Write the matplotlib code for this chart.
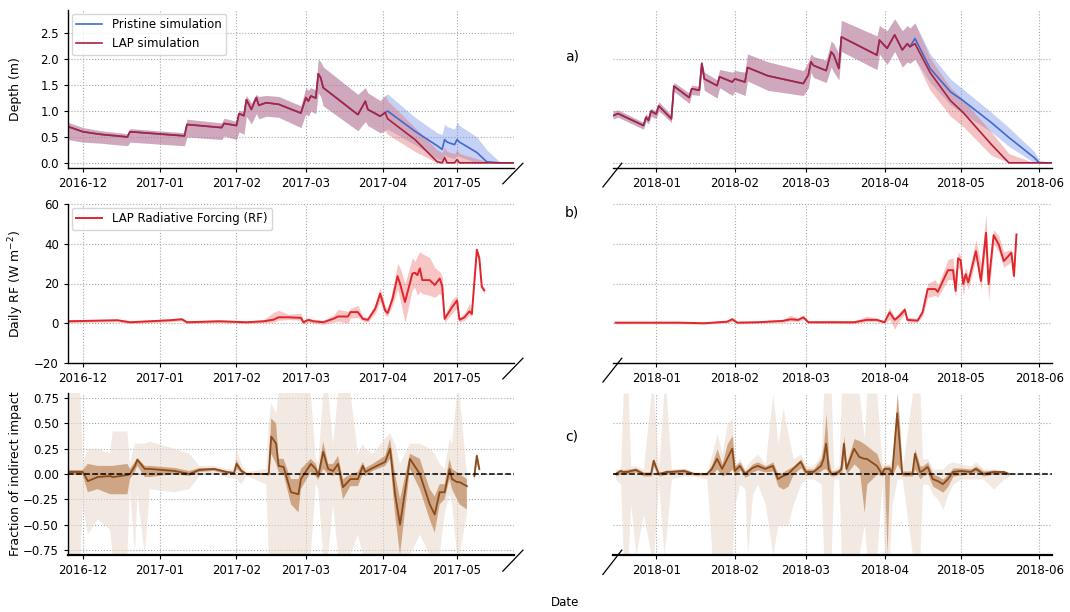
import numpy as np
import pandas as pd
import matplotlib
matplotlib.use("Agg")
import matplotlib.pyplot as plt
import matplotlib.dates as mdates

nan = np.nan

# ---------------- a) snow depth, season 1 ----------------
depth1_dates = ["2016-11-25", "2016-12-01", "2016-12-08", "2016-12-19", "2016-12-20", "2017-01-11",
                "2017-01-12", "2017-01-26", "2017-01-27", "2017-02-01", "2017-02-02", "2017-02-04",
                "2017-02-05", "2017-02-07", "2017-02-09", "2017-02-10", "2017-02-13", "2017-02-18",
                "2017-02-27", "2017-03-01", "2017-03-02", "2017-03-03", "2017-03-05", "2017-03-06",
                "2017-03-07", "2017-03-08", "2017-03-22", "2017-03-25", "2017-03-26", "2017-03-31",
                "2017-04-02", "2017-04-03", "2017-04-14", "2017-04-23", "2017-04-25", "2017-04-26",
                "2017-04-27", "2017-04-30", "2017-05-01", "2017-05-02", "2017-05-09", "2017-05-13",
                "2017-05-18", "2017-05-24"]
depth1_pristine = [0.70, 0.60, 0.55, 0.50, 0.60, 0.52, 0.74, 0.68, 0.76, 0.72, 0.95, 0.91,
                   1.22, 1.03, 1.26, 1.11, 1.16, 1.13, 0.96, 1.26, 1.19, 1.29, 1.25, 1.72,
                   1.64, 1.45, 0.93, 1.19, 1.03, 0.90, 0.97, 1.00, 0.61, 0.33, 0.26, 0.45,
                   0.40, 0.35, 0.45, 0.40, 0.20, 0.02, 0.00, 0.00]
depth1_lap = [0.70, 0.60, 0.55, 0.50, 0.60, 0.52, 0.74, 0.68, 0.76, 0.72, 0.95, 0.91,
              1.22, 1.03, 1.26, 1.11, 1.16, 1.13, 0.96, 1.26, 1.19, 1.29, 1.25, 1.72,
              1.64, 1.45, 0.93, 1.19, 1.03, 0.90, 0.97, 0.85, 0.45, 0.02, 0.00, 0.10,
              0.00, 0.00, 0.06, 0.00, 0.00, 0.00, 0.00, 0.00]
depth1_pristine_lo = [0.45, 0.40, 0.38, 0.33, 0.40, 0.33, 0.50, 0.45, 0.52, 0.45, 0.60, 0.55,
                      0.90, 0.75, 0.95, 0.85, 0.90, 0.88, 0.68, 0.95, 0.90, 1.00, 0.95, 1.35,
                      1.28, 1.10, 0.62, 0.80, 0.72, 0.58, 0.62, 0.65, 0.35, 0.08, 0.05, 0.15,
                      0.12, 0.08, 0.15, 0.12, 0.00, 0.00, 0.00, 0.00]
depth1_pristine_hi = [0.78, 0.68, 0.62, 0.56, 0.66, 0.58, 0.84, 0.77, 0.86, 0.80, 1.02, 0.98,
                      1.30, 1.15, 1.32, 1.28, 1.30, 1.28, 1.10, 1.45, 1.40, 1.45, 1.40, 2.00,
                      1.95, 1.85, 1.32, 1.45, 1.35, 1.20, 1.30, 1.33, 0.88, 0.58, 0.55, 0.75,
                      0.70, 0.65, 0.78, 0.72, 0.50, 0.25, 0.03, 0.00]
depth1_lap_lo = [0.45, 0.40, 0.38, 0.33, 0.40, 0.33, 0.50, 0.45, 0.52, 0.45, 0.60, 0.55,
                 0.90, 0.75, 0.95, 0.85, 0.90, 0.88, 0.68, 0.95, 0.90, 1.00, 0.95, 1.35,
                 1.28, 1.10, 0.62, 0.80, 0.72, 0.58, 0.62, 0.55, 0.22, 0.00, 0.00, 0.00,
                 0.00, 0.00, 0.00, 0.00, 0.00, 0.00, 0.00, 0.00]
depth1_lap_hi = [0.78, 0.68, 0.62, 0.56, 0.66, 0.58, 0.84, 0.77, 0.86, 0.80, 1.02, 0.98,
                 1.30, 1.15, 1.32, 1.28, 1.30, 1.28, 1.10, 1.45, 1.40, 1.45, 1.40, 2.00,
                 1.95, 1.85, 1.32, 1.45, 1.35, 1.20, 1.30, 1.20, 0.68, 0.25, 0.20, 0.30,
                 0.22, 0.18, 0.25, 0.18, 0.08, 0.02, 0.00, 0.00]

# ---------------- a) snow depth, season 2 ----------------
depth2_dates = ["2017-12-15", "2017-12-17", "2017-12-27", "2017-12-28", "2017-12-29", "2017-12-30",
                "2018-01-01", "2018-01-02", "2018-01-04", "2018-01-07", "2018-01-08", "2018-01-14",
                "2018-01-15", "2018-01-18", "2018-01-19", "2018-01-20", "2018-01-25", "2018-01-26",
                "2018-01-31", "2018-02-01", "2018-02-05", "2018-02-06", "2018-02-14", "2018-02-28",
                "2018-03-02", "2018-03-03", "2018-03-04", "2018-03-09", "2018-03-11", "2018-03-12",
                "2018-03-14", "2018-03-15", "2018-03-29", "2018-03-30", "2018-04-02", "2018-04-05",
                "2018-04-08", "2018-04-10", "2018-04-11", "2018-04-13", "2018-04-19", "2018-04-27",
                "2018-05-02", "2018-05-13", "2018-05-20", "2018-05-30", "2018-06-01", "2018-06-06"]
depth2_pristine = [0.91, 0.95, 0.72, 0.88, 0.82, 1.00, 0.94, 1.10, 1.00, 0.85, 1.48, 1.26,
                   1.43, 1.40, 1.92, 1.62, 1.49, 1.66, 1.56, 1.62, 1.56, 1.84, 1.68, 1.53,
                   1.70, 1.95, 1.88, 1.78, 2.14, 2.08, 1.82, 2.43, 2.08, 2.37, 2.21, 2.47,
                   2.18, 2.30, 2.24, 2.40, 1.82, 1.37, 1.20, 0.78, 0.49, 0.10, 0.00, 0.00]
depth2_lap = [0.91, 0.95, 0.72, 0.88, 0.82, 1.00, 0.94, 1.10, 1.00, 0.85, 1.48, 1.26,
              1.43, 1.40, 1.92, 1.62, 1.49, 1.66, 1.56, 1.62, 1.56, 1.84, 1.68, 1.53,
              1.70, 1.95, 1.88, 1.78, 2.14, 2.08, 1.82, 2.43, 2.08, 2.37, 2.21, 2.47,
              2.18, 2.30, 2.24, 2.30, 1.74, 1.20, 0.97, 0.36, 0.00, 0.00, 0.00, 0.00]
depth2_pristine_lo = [0.85, 0.88, 0.65, 0.80, 0.75, 0.90, 0.85, 1.00, 0.92, 0.78, 1.38, 1.15,
                      1.32, 1.30, 1.75, 1.40, 1.25, 1.45, 1.30, 1.38, 1.30, 1.58, 1.40, 1.30,
                      1.45, 1.75, 1.65, 1.55, 1.85, 1.75, 1.60, 2.15, 1.80, 2.10, 1.90, 2.15,
                      1.85, 1.95, 1.92, 2.00, 1.55, 1.12, 0.95, 0.60, 0.32, 0.00, 0.00, 0.00]
depth2_pristine_hi = [1.00, 1.02, 0.78, 0.95, 0.88, 1.05, 1.00, 1.18, 1.08, 0.92, 1.55, 1.35,
                      1.50, 1.47, 1.95, 1.75, 1.60, 1.80, 1.75, 1.78, 1.75, 2.10, 1.95, 1.78,
                      1.95, 2.10, 2.05, 1.98, 2.35, 2.30, 2.10, 2.75, 2.45, 2.65, 2.55, 2.78,
                      2.55, 2.65, 2.60, 2.70, 2.10, 1.62, 1.42, 0.98, 0.68, 0.22, 0.05, 0.00]
depth2_lap_lo = [0.85, 0.88, 0.65, 0.80, 0.75, 0.90, 0.85, 1.00, 0.92, 0.78, 1.38, 1.15,
                 1.32, 1.30, 1.75, 1.40, 1.25, 1.45, 1.30, 1.38, 1.30, 1.58, 1.40, 1.30,
                 1.45, 1.75, 1.65, 1.55, 1.85, 1.75, 1.60, 2.15, 1.80, 2.10, 1.90, 2.15,
                 1.85, 1.95, 1.92, 2.00, 1.40, 0.90, 0.70, 0.15, 0.00, 0.00, 0.00, 0.00]
depth2_lap_hi = [1.00, 1.02, 0.78, 0.95, 0.88, 1.05, 1.00, 1.18, 1.08, 0.92, 1.55, 1.35,
                 1.50, 1.47, 1.95, 1.75, 1.60, 1.80, 1.75, 1.78, 1.75, 2.10, 1.95, 1.78,
                 1.95, 2.10, 2.05, 1.98, 2.35, 2.30, 2.10, 2.75, 2.45, 2.65, 2.55, 2.78,
                 2.55, 2.65, 2.60, 2.70, 2.02, 1.45, 1.22, 0.60, 0.18, 0.00, 0.00, 0.00]

# ---------------- b) daily radiative forcing ----------------
rf1_dates = ["2016-11-25", "2016-12-15", "2016-12-20", "2017-01-05", "2017-01-10", "2017-01-12",
             "2017-01-25", "2017-02-05", "2017-02-12", "2017-02-16", "2017-02-18", "2017-02-22",
             "2017-02-27", "2017-02-28", "2017-03-02", "2017-03-04", "2017-03-08", "2017-03-12",
             "2017-03-14", "2017-03-18", "2017-03-19", "2017-03-22", "2017-03-24", "2017-03-26",
             "2017-03-29", "2017-03-31", "2017-04-02", "2017-04-03", "2017-04-05", "2017-04-07",
             "2017-04-08", "2017-04-10", "2017-04-13", "2017-04-14", "2017-04-15", "2017-04-16",
             "2017-04-17", "2017-04-20", "2017-04-22", "2017-04-24", "2017-04-25", "2017-04-26",
             "2017-04-29", "2017-05-01", "2017-05-02", "2017-05-04", "2017-05-06", "2017-05-07",
             "2017-05-09", "2017-05-10", "2017-05-11", "2017-05-12"]
rf1_mean = [1.0, 1.5, 0.5, 1.5, 2.0, 0.5, 1.0, 0.5, 1.0, 1.8, 3.0, 3.0, 2.7, 0.5, 1.7, 1.0,
            0.5, 2.2, 3.4, 3.4, 5.6, 5.6, 2.2, 1.7, 7.3, 14.9, 6.4, 5.1, 12.4, 23.7, 20.0,
            10.7, 25.0, 25.4, 24.2, 27.6, 21.7, 21.7, 19.2, 22.5, 19.0, 2.2, 8.1, 11.5, 1.7,
            3.0, 6.0, 4.7, 37.0, 32.7, 18.3, 16.6]
rf1_lo = [0.3, 0.8, -0.2, 0.8, 1.2, -0.2, 0.3, -0.2, 0.3, 0.5, 1.5, 1.8, 1.5, -0.5, 0.5, 0.0,
          -0.5, 0.5, 1.0, 0.0, 2.5, 3.0, 1.0, 0.5, 5.0, 11.0, 4.0, 3.5, 9.0, 17.0, 12.0,
          0.5, 17.0, 18.0, 14.0, 16.0, 15.0, 14.0, 13.0, 15.0, 14.0, 0.5, 5.0, 8.0, 0.5,
          1.5, 4.0, 3.5, 34.0, 30.0, 16.5, 15.0]
rf1_hi = [1.7, 2.2, 1.2, 2.2, 2.8, 1.2, 1.7, 1.2, 1.8, 5.5, 6.5, 4.5, 5.0, 1.5, 2.8, 2.0,
          1.5, 4.0, 7.0, 6.0, 7.5, 9.0, 3.5, 3.0, 10.0, 18.0, 8.5, 7.0, 17.0, 30.0, 28.0,
          20.0, 33.0, 31.0, 34.0, 36.0, 35.0, 33.0, 28.0, 26.0, 24.0, 4.0, 12.0, 14.0, 3.0,
          5.0, 10.0, 7.0, 38.0, 34.0, 20.0, 17.5]

rf2_dates = ["2017-12-16", "2018-01-10", "2018-01-20", "2018-01-29", "2018-01-31", "2018-02-02",
             "2018-02-10", "2018-02-20", "2018-02-23", "2018-02-26", "2018-02-28", "2018-03-02",
             "2018-03-10", "2018-03-20", "2018-03-25", "2018-03-29", "2018-04-01", "2018-04-03",
             "2018-04-05", "2018-04-07", "2018-04-09", "2018-04-10", "2018-04-14", "2018-04-16",
             "2018-04-18", "2018-04-21", "2018-04-22", "2018-04-26", "2018-04-28", "2018-04-29",
             "2018-04-30", "2018-05-01", "2018-05-02", "2018-05-03", "2018-05-04", "2018-05-07",
             "2018-05-09", "2018-05-11", "2018-05-12", "2018-05-14", "2018-05-16", "2018-05-18",
             "2018-05-21", "2018-05-22", "2018-05-23"]
rf2_mean = [0.3, 0.3, 0.0, 0.8, 2.0, 0.3, 0.5, 1.2, 2.0, 1.7, 3.0, 0.5, 0.5, 0.5, 1.7, 1.7,
            0.5, 5.5, 1.7, 3.8, 6.8, 1.7, 1.3, 5.5, 17.2, 17.2, 15.8, 26.7, 26.7, 16.3, 32.7,
            31.7, 19.7, 24.7, 20.5, 36.3, 21.3, 45.5, 19.7, 44.3, 39.7, 31.3, 35.5, 23.8, 44.7]
rf2_lo = [-0.3, -0.3, -0.5, 0.2, 1.0, -0.3, 0.0, 0.5, 1.0, 0.8, 2.0, 0.0, 0.0, -0.2, 0.8, 0.8,
          0.0, 2.0, -3.0, 1.5, 5.0, 0.5, 0.5, 3.5, 13.0, 14.0, 13.0, 22.0, 22.0, 13.0, 28.0,
          27.0, 14.0, 21.0, 17.0, 32.0, 17.0, 40.0, 11.0, 40.0, 36.0, 28.0, 31.0, 21.0, 42.0]
rf2_hi = [0.9, 0.9, 0.6, 1.5, 3.0, 0.9, 1.2, 2.0, 4.0, 2.5, 4.0, 1.2, 1.5, 1.2, 3.5, 2.6,
          1.2, 8.0, 3.0, 6.0, 8.0, 3.0, 2.5, 7.5, 20.0, 22.0, 19.0, 32.0, 33.0, 22.0, 36.0,
          34.0, 23.0, 28.0, 24.0, 42.0, 30.0, 55.0, 25.0, 47.0, 44.0, 36.0, 37.0, 27.0, 46.0]

# ---------------- c) fraction of indirect impact ----------------
fr1_dates = ["2016-11-25", "2016-11-30", "2016-12-01", "2016-12-03", "2016-12-07", "2016-12-12",
             "2016-12-13", "2016-12-19", "2016-12-20", "2016-12-22", "2016-12-23", "2016-12-26",
             "2016-12-28", "2017-01-07", "2017-01-13", "2017-01-17", "2017-01-23", "2017-01-28",
             "2017-01-31", "2017-02-01", "2017-02-03", "2017-02-05", "2017-02-13", "2017-02-14",
             "2017-02-15", "2017-02-17", "2017-02-18", "2017-02-20", "2017-02-23", "2017-02-26",
             "2017-02-27", "2017-03-03", "2017-03-05", "2017-03-06", "2017-03-08", "2017-03-10",
             "2017-03-12", "2017-03-14", "2017-03-16", "2017-03-19", "2017-03-22", "2017-03-24",
             "2017-03-25", "2017-03-28", "2017-04-02", "2017-04-04", "2017-04-06", "2017-04-08",
             "2017-04-12", "2017-04-16", "2017-04-20", "2017-04-22", "2017-04-24", "2017-04-26",
             "2017-04-28", "2017-04-29", "2017-05-01", "2017-05-02", "2017-05-05", "2017-05-06",
             "2017-05-08", "2017-05-09", "2017-05-10"]
fr1_mean = [0.02, 0.02, 0.02, -0.07, -0.03, -0.02, -0.03, -0.01, 0.00, 0.08, 0.14, 0.05,
            0.05, 0.03, 0.00, 0.04, 0.05, 0.02, 0.01, 0.10, 0.03, 0.00, 0.00, 0.00,
            0.37, 0.30, 0.08, 0.07, -0.18, -0.20, -0.05, 0.10, 0.05, -0.02, 0.22, 0.05,
            0.03, 0.10, -0.13, -0.05, -0.05, 0.08, 0.02, 0.06, 0.12, 0.25, -0.20, -0.50,
            0.15, 0.00, -0.30, -0.40, -0.18, -0.18, 0.05, -0.05, -0.08, -0.08, -0.12, nan,
            -0.02, 0.18, 0.05]
fr1_q_lo = [-0.01, -0.01, -0.01, -0.18, -0.15, -0.20, -0.20, -0.20, -0.05, 0.02, 0.08, -0.03,
            -0.03, 0.00, -0.02, 0.02, 0.03, 0.00, 0.00, 0.05, 0.01, -0.01, -0.01, -0.02,
            0.20, 0.10, 0.02, 0.00, -0.30, -0.38, -0.15, 0.02, -0.02, -0.06, 0.05, 0.00,
            -0.02, 0.02, -0.25, -0.12, -0.12, 0.00, -0.02, 0.03, 0.08, 0.15, -0.40, -0.80,
            0.05, -0.15, -0.45, -0.58, -0.30, -0.25, -0.05, -0.15, -0.25, -0.30, -0.35, nan,
            -0.08, 0.12, 0.02]
fr1_q_hi = [0.04, 0.04, 0.04, 0.10, 0.08, 0.08, 0.08, 0.10, 0.05, 0.12, 0.16, 0.08,
            0.08, 0.06, 0.03, 0.06, 0.06, 0.03, 0.02, 0.14, 0.05, 0.01, 0.01, 0.02,
            0.55, 0.50, 0.15, 0.15, -0.05, -0.05, 0.05, 0.15, 0.10, 0.02, 0.32, 0.10,
            0.10, 0.18, -0.05, 0.00, 0.02, 0.12, 0.06, 0.10, 0.18, 0.35, 0.00, -0.25,
            0.20, 0.15, -0.15, -0.22, -0.10, -0.10, 0.15, 0.05, 0.02, 0.00, -0.05, nan,
            0.05, 0.20, 0.08]
fr1_r_lo = [-0.80, -0.80, -0.30, -0.60, -0.45, -0.55, -0.80, -0.80, -0.15, -0.80, -0.20, -0.80,
            -0.15, -0.18, -0.15, -0.02, 0.00, -0.03, -0.05, -0.05, -0.10, -0.02, -0.10, -0.80,
            -0.80, -0.80, -0.80, -0.80, -0.80, -0.80, -0.80, -0.80, -0.10, -0.15, -0.80, -0.80,
            -0.30, -0.80, -0.80, -0.80, -0.60, -0.80, -0.80, -0.80, -0.80, -0.80, -0.80, -0.80,
            -0.80, -0.60, -0.80, -0.80, -0.80, -0.40, -0.20, -0.30, -0.80, -0.80, -0.40, nan,
            -0.05, 0.10, 0.00]
fr1_r_hi = [0.80, 0.80, 0.10, 0.25, 0.25, 0.20, 0.42, 0.42, 0.10, 0.30, 0.30, 0.30,
            0.32, 0.25, 0.20, 0.08, 0.08, 0.05, 0.05, 0.25, 0.10, 0.02, 0.05, 0.50,
            0.70, 0.60, 0.80, 0.80, 0.80, 0.80, 0.80, 0.80, 0.15, 0.10, 0.80, 0.80,
            0.30, 0.80, 0.80, 0.80, 0.20, 0.30, 0.25, 0.20, 0.35, 0.40, 0.30, 0.10,
            0.30, 0.30, 0.25, 0.20, 0.10, 0.05, 0.35, 0.30, 0.80, 0.80, 0.00, nan,
            0.10, 0.22, 0.10]

fr2_dates = ["2017-12-16", "2017-12-18", "2017-12-19", "2017-12-21", "2017-12-22", "2017-12-24",
             "2017-12-27", "2017-12-30", "2017-12-31", "2018-01-02", "2018-01-04", "2018-01-05",
             "2018-01-07", "2018-01-12", "2018-01-16", "2018-01-21", "2018-01-23", "2018-01-25",
             "2018-01-27", "2018-01-29", "2018-01-31", "2018-02-01", "2018-02-03", "2018-02-05",
             "2018-02-06", "2018-02-08", "2018-02-10", "2018-02-13", "2018-02-16", "2018-02-18",
             "2018-02-20", "2018-02-22", "2018-02-24", "2018-02-27", "2018-03-01", "2018-03-04",
             "2018-03-07", "2018-03-08", "2018-03-09", "2018-03-10", "2018-03-11", "2018-03-12",
             "2018-03-14", "2018-03-15", "2018-03-16", "2018-03-17", "2018-03-20", "2018-03-22",
             "2018-03-24", "2018-03-25", "2018-03-29", "2018-03-31", "2018-04-01", "2018-04-02",
             "2018-04-03", "2018-04-04", "2018-04-06", "2018-04-07", "2018-04-08", "2018-04-12",
             "2018-04-13", "2018-04-15", "2018-04-16", "2018-04-18", "2018-04-20", "2018-04-22",
             "2018-04-24", "2018-04-26", "2018-04-28", "2018-05-01", "2018-05-05", "2018-05-07",
             "2018-05-10", "2018-05-14", "2018-05-18", "2018-05-20"]
fr2_mean = [0.00, 0.03, 0.02, 0.02, 0.03, 0.04, 0.00, 0.00, 0.13, 0.00, 0.01, 0.02,
            0.02, 0.03, 0.00, 0.00, 0.05, 0.15, 0.05, 0.15, 0.25, 0.03, 0.08, 0.00,
            0.02, 0.06, 0.08, 0.05, 0.08, -0.05, -0.02, 0.00, 0.05, 0.12, 0.02, 0.02,
            0.08, 0.15, 0.30, 0.05, 0.00, 0.00, 0.02, 0.05, 0.30, 0.05, 0.25, 0.17,
            0.15, 0.15, 0.08, 0.00, 0.05, 0.05, 0.05, 0.00, 0.60, 0.30, 0.00, 0.00,
            0.20, 0.02, 0.03, 0.07, -0.05, -0.07, -0.10, -0.05, 0.02, 0.03, 0.02, 0.05,
            0.00, 0.02, 0.02, 0.00]
fr2_q_lo = [-0.02, 0.00, 0.00, 0.00, 0.01, 0.02, -0.02, -0.02, 0.08, -0.02, -0.01, 0.00,
            0.00, 0.01, -0.01, -0.01, 0.00, 0.05, -0.02, 0.00, 0.05, -0.02, 0.04, -0.03,
            -0.02, 0.02, 0.04, 0.02, 0.03, -0.12, -0.15, -0.12, 0.00, 0.06, -0.01, 0.00,
            0.03, 0.05, 0.05, 0.00, -0.02, -0.02, 0.00, 0.00, 0.15, 0.00, 0.10, 0.05,
            -0.38, -0.10, 0.00, -0.02, 0.00, -0.80, 0.00, -0.02, 0.10, 0.05, -0.02, -0.02,
            0.05, -0.05, -0.02, 0.00, -0.12, -0.15, -0.18, -0.12, -0.02, -0.01, 0.00, 0.02,
            -0.02, 0.00, 0.00, -0.01]
fr2_q_hi = [0.02, 0.05, 0.04, 0.05, 0.05, 0.06, 0.02, 0.02, 0.16, 0.02, 0.03, 0.04,
            0.04, 0.05, 0.01, 0.01, 0.10, 0.25, 0.10, 0.30, 0.38, 0.08, 0.12, 0.03,
            0.05, 0.10, 0.12, 0.08, 0.12, 0.00, 0.02, 0.05, 0.08, 0.15, 0.05, 0.05,
            0.15, 0.30, 0.60, 0.15, 0.03, 0.03, 0.05, 0.10, 0.38, 0.10, 0.35, 0.33,
            0.30, 0.28, 0.20, 0.05, 0.08, 0.08, 0.08, 0.05, 0.80, 0.45, 0.03, 0.03,
            0.25, 0.08, 0.08, 0.12, 0.00, -0.02, -0.05, 0.00, 0.06, 0.06, 0.05, 0.08,
            0.03, 0.04, 0.03, 0.01]
fr2_r_lo = [-0.05, -0.10, -0.80, -0.80, -0.30, -0.80, -0.40, -0.80, -0.80, -0.10, -0.80, -0.60,
            -0.05, -0.02, -0.02, -0.05, -0.80, -0.80, -0.80, -0.80, -0.80, -0.30, -0.10, -0.15,
            -0.80, -0.20, -0.10, -0.30, -0.80, -0.50, -0.50, -0.50, -0.30, -0.10, -0.05, -0.05,
            -0.10, -0.80, -0.80, -0.80, -0.80, -0.05, -0.05, -0.80, -0.80, -0.80, -0.80, -0.80,
            -0.50, -0.80, -0.80, -0.10, -0.80, -0.80, -0.80, -0.30, -0.05, -0.05, -0.05, -0.80,
            -0.80, -0.80, -0.10, -0.10, -0.20, -0.25, -0.35, -0.20, -0.10, -0.05, -0.05, -0.05,
            -0.05, -0.15, -0.05, -0.02]
fr2_r_hi = [0.05, 0.05, 0.80, 0.80, 0.08, 0.08, 0.05, 0.80, 0.80, 0.05, 0.80, 0.80,
            0.05, 0.06, 0.02, 0.02, 0.20, 0.40, 0.20, 0.50, 0.55, 0.10, 0.15, 0.05,
            0.10, 0.15, 0.20, 0.10, 0.80, 0.30, 0.65, 0.40, 0.15, 0.20, 0.08, 0.08,
            0.20, 0.80, 0.80, 0.80, 0.80, 0.05, 0.08, 0.80, 0.80, 0.80, 0.80, 0.80,
            0.35, 0.80, 0.80, 0.10, 0.10, 0.10, 0.10, 0.15, 0.80, 0.50, 0.05, 0.80,
            0.80, 0.80, 0.15, 0.15, 0.05, 0.05, 0.05, 0.10, 0.12, 0.10, 0.08, 0.12,
            0.05, 0.05, 0.04, 0.02]

xlim1 = ("2016-11-25", "2017-05-24")
xlim2 = ("2017-12-15", "2018-06-06")

# colours
c_prist = "#4169d0"
c_lap = "#b0203c"
c_rf = "#e0262b"
c_frac = "#8a4a1c"

fig = plt.figure(figsize=(10.7, 6.12), dpi=100)
lx, lw_ = 68 / 1070, 446 / 1070
rx, rw_ = 613 / 1070, 439 / 1070
rows = [(1 - 168 / 612, 158 / 612), (1 - 363 / 612, 159 / 612), (1 - 555 / 612, 162 / 612)]

axes = []
for bot, h in rows:
    a1 = fig.add_axes([lx, bot, lw_, h])
    a2 = fig.add_axes([rx, bot, rw_, h])
    axes.append((a1, a2))


def dt(lst):
    return pd.to_datetime(lst)


# ---- row a
a1, a2 = axes[0]
for ax, d, p, l, plo, phi, llo, lhi in [
        (a1, depth1_dates, depth1_pristine, depth1_lap, depth1_pristine_lo, depth1_pristine_hi,
         depth1_lap_lo, depth1_lap_hi),
        (a2, depth2_dates, depth2_pristine, depth2_lap, depth2_pristine_lo, depth2_pristine_hi,
         depth2_lap_lo, depth2_lap_hi)]:
    x = dt(d)
    ax.fill_between(x, plo, phi, color="#6f8fe6", alpha=0.4, lw=0)
    ax.fill_between(x, llo, lhi, color="#e36a6a", alpha=0.4, lw=0)
    ax.plot(x, p, color=c_prist, lw=1.2, label="Pristine simulation")
    ax.plot(x, l, color=c_lap, lw=1.2, label="LAP simulation")
    ax.set_ylim(-0.1, 2.95)
a1.set_yticks([0, 0.5, 1.0, 1.5, 2.0, 2.5])
a2.set_yticks([0, 1, 2])
a1.legend(loc="upper left", fontsize=8.5, frameon=True, edgecolor="#cccccc",
          borderaxespad=0.3, handlelength=2.2)

# ---- row b
b1, b2 = axes[1]
for ax, d, m, lo, hi in [(b1, rf1_dates, rf1_mean, rf1_lo, rf1_hi),
                         (b2, rf2_dates, rf2_mean, rf2_lo, rf2_hi)]:
    x = dt(d)
    ax.fill_between(x, lo, hi, color="#f08080", alpha=0.45, lw=0)
    ax.plot(x, m, color=c_rf, lw=1.4, label="LAP Radiative Forcing (RF)")
    ax.set_ylim(-20, 60)
b1.set_yticks([-20, 0, 20, 40, 60])
b2.set_yticks([0, 20, 40, 60])
b1.legend(loc="upper left", fontsize=8.5, frameon=True, edgecolor="#cccccc",
          borderaxespad=0.3, handlelength=2.2)

# ---- row c
c1, c2 = axes[2]
for ax, d, m, qlo, qhi, rlo, rhi in [
        (c1, fr1_dates, fr1_mean, fr1_q_lo, fr1_q_hi, fr1_r_lo, fr1_r_hi),
        (c2, fr2_dates, fr2_mean, fr2_q_lo, fr2_q_hi, fr2_r_lo, fr2_r_hi)]:
    x = dt(d)
    ax.fill_between(x, rlo, rhi, color="#e9d9cb", alpha=0.55, lw=0)
    ax.fill_between(x, qlo, qhi, color="#b97a48", alpha=0.6, lw=0)
    ax.plot(x, m, color=c_frac, lw=1.3)
    ax.axhline(0, color="black", ls="--", lw=1.1, zorder=5)
    ax.set_ylim(-0.8, 0.8)
c1.set_yticks([-0.75, -0.5, -0.25, 0, 0.25, 0.5, 0.75])
c2.set_yticks([-0.5, 0, 0.5])

# ---- common styling
for i, (axl, axr) in enumerate(axes):
    axl.set_xlim(pd.Timestamp(xlim1[0]), pd.Timestamp(xlim1[1]))
    axr.set_xlim(pd.Timestamp(xlim2[0]), pd.Timestamp(xlim2[1]))
    for ax in (axl, axr):
        ax.xaxis.set_major_locator(mdates.MonthLocator())
        ax.xaxis.set_major_formatter(mdates.DateFormatter("%Y-%m"))
        ax.grid(True, ls=":", color="#a8a8a8", lw=0.8)
        ax.tick_params(labelsize=8.5, length=3)
        ax.spines["top"].set_visible(False)
        ax.spines["right"].set_visible(False)
        ax.set_axisbelow(True)
    axr.spines["left"].set_visible(False)
    axr.tick_params(axis="y", left=False, labelleft=False)
    bw = 1.6 if i == 2 else 1.0
    for ax in (axl, axr):
        ax.spines["bottom"].set_linewidth(bw)
    axl.spines["left"].set_linewidth(1.0)
    # broken-axis marks
    kw = dict(color="k", lw=0.9, clip_on=False)
    axl.plot([0.975, 1.02], [-0.1, 0.03], transform=axl.transAxes, **kw)
    axr.plot([-0.023, 0.02], [-0.12, 0.03], transform=axr.transAxes, **kw)

# y labels aligned in one column, as in the figure
for (bot, h), lab in zip(rows, ["Depth (m)", "Daily RF (W m$^{-2}$)", "Fraction of indirect impact"]):
    fig.text(16 / 1070, bot + h / 2, lab, rotation=90, fontsize=9, va="center", ha="center")

fig.text(572 / 1070, 1 - 57 / 612, "a)", fontsize=10, va="center", ha="center")
fig.text(572 / 1070, 1 - 213 / 612, "b)", fontsize=10, va="center", ha="center")
fig.text(572 / 1070, 1 - 437 / 612, "c)", fontsize=10, va="center", ha="center")
fig.text(565 / 1070, 1 - 603 / 612, "Date", fontsize=8.5, va="center", ha="center")

fig.savefig("out.png", dpi=100)
